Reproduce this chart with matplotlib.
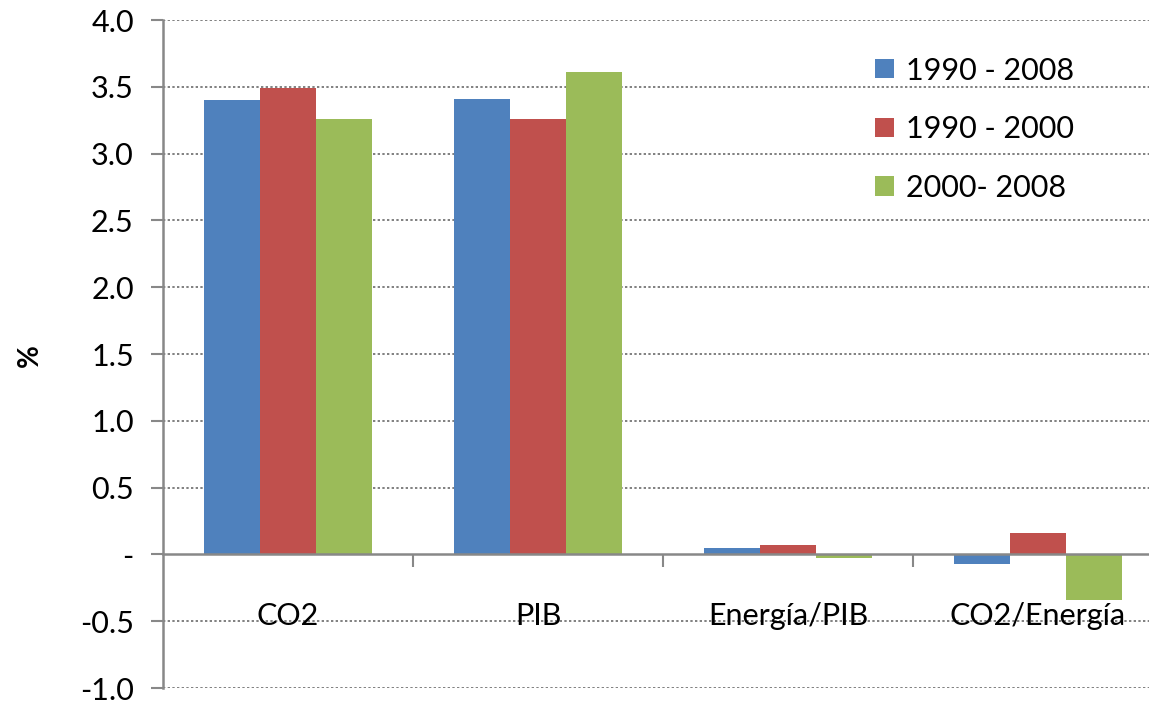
import numpy as np
import matplotlib.pyplot as plt
from matplotlib.ticker import FixedLocator, FuncFormatter

plt.rcParams['font.family'] = ['Lato', 'DejaVu Sans']

categories = ['CO2', 'PIB', 'Energía/PIB', 'CO2/Energía']
series_names = ['1990 - 2008', '1990 - 2000', '2000- 2008']
v_1990_2008 = [3.40, 3.41, 0.05, -0.07]
v_1990_2000 = [3.49, 3.26, 0.07, 0.16]
v_2000_2008 = [3.26, 3.61, -0.03, -0.34]
colors = ['#4F81BD', '#C0504D', '#9BBB59']

fig = plt.figure(figsize=(11.49, 7.04), dpi=100)
ax = fig.add_axes([163 / 1149, 16 / 704, 1000 / 1149, 668 / 704])

x = np.arange(len(categories))
w = 0.224
for i, (vals, name, c) in enumerate(zip([v_1990_2008, v_1990_2000, v_2000_2008], series_names, colors)):
    ax.bar(x + (i - 1) * w, vals, w, color=c, label=name, zorder=3)

ax.set_xlim(-0.5, 3.5)
ax.set_ylim(-1.0, 4.0)

yt = np.arange(-1.0, 4.01, 0.5)
ax.set_yticks(yt)
ax.yaxis.set_major_formatter(FuncFormatter(lambda v, p: '-' if abs(v) < 1e-9 else '%.1f' % v))
for y in yt:
    if abs(y) > 1e-9:
        ax.axhline(y, color='#808080', lw=1.4, ls=(0, (1.2, 1.2)), zorder=1)

ax.spines['top'].set_visible(False)
ax.spines['right'].set_visible(False)
ax.spines['left'].set_color('#888888')
ax.spines['left'].set_linewidth(1.8)
ax.spines['bottom'].set_position(('data', 0))
ax.spines['bottom'].set_color('#888888')
ax.spines['bottom'].set_linewidth(1.8)
ax.spines['bottom'].set_zorder(4)

ax.tick_params(axis='y', direction='out', length=9, width=1.5, color='#888888',
               labelsize=22, pad=12)
ax.xaxis.set_major_locator(FixedLocator([0.5, 1.5, 2.5]))
ax.xaxis.set_minor_locator(FixedLocator(x))
ax.xaxis.set_minor_formatter(FuncFormatter(lambda v, p: categories[int(round(v))]))
ax.tick_params(axis='x', which='major', direction='out', length=9, width=1.5,
               color='#888888', labelbottom=False)
ax.tick_params(axis='x', which='minor', length=0, labelsize=22, pad=34)

fig.text(30 / 1149, 1 - 356 / 704, '%', fontsize=20, fontweight='bold',
         rotation=90, ha='center', va='center')

ax.legend(loc='upper left', bbox_to_anchor=(848 / 1149, 1 - 29 / 704),
          bbox_transform=fig.transFigure, frameon=False, fontsize=22,
          handlelength=0.6, handleheight=0.6, handletextpad=0.4,
          labelspacing=1.0)

fig.savefig('out.png', dpi=100)
